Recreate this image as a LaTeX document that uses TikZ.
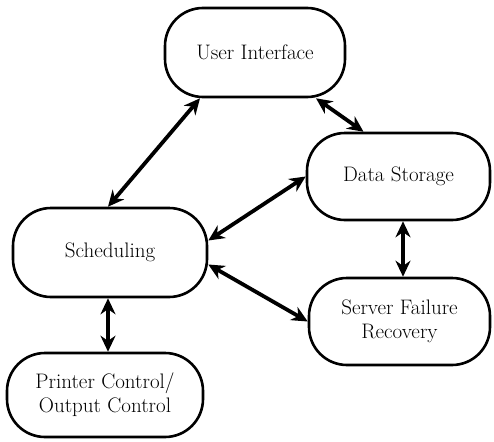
\documentclass[tikz,border=0pt]{standalone}
\usetikzlibrary{arrows.meta}
\begin{document}
\begin{tikzpicture}[x=1pt,y=-1pt,
  box/.style={draw, line width=2.6pt, rounded corners=38pt, align=center,
    inner sep=0pt, font=\fontsize{21}{24}\selectfont},
  link/.style={line width=3.8pt,
    {Stealth[length=16pt,width=15pt]}-{Stealth[length=16pt,width=15pt]}}]
\useasboundingbox (0,0) rectangle (494,441);
\node[box, minimum width=180pt, minimum height=89pt] (ui) at (255,52.5) {User Interface};
\node[box, minimum width=183pt, minimum height=87pt] (ds) at (398.5,176.5) {Data Storage};
\node[box, minimum width=194pt, minimum height=89pt] (sch) at (110,252.5) {Scheduling};
\node[box, minimum width=181pt, minimum height=87pt] (sfr) at (399.5,321.5) {Server Failure\\Recovery};
\node[box, minimum width=196pt, minimum height=84pt] (pc) at (105,395) {Printer Control/\\Output Control};
\draw[link] ([xshift=-55pt]ui.south) -- ([xshift=-2pt]sch.north);
\draw[link] ([xshift=61pt]ui.south) -- ([xshift=-35pt]ds.north);
\draw[link] (ds.west) -- ([yshift=12pt]sch.east);
\draw[link] ([yshift=-12pt]sch.east) -- (sfr.west);
\draw[link] ([xshift=4.5pt]ds.south) -- ([xshift=3.5pt]sfr.north);
\draw[link] ([xshift=-2pt]sch.south) -- ([xshift=3pt]pc.north);
\end{tikzpicture}
\end{document}
